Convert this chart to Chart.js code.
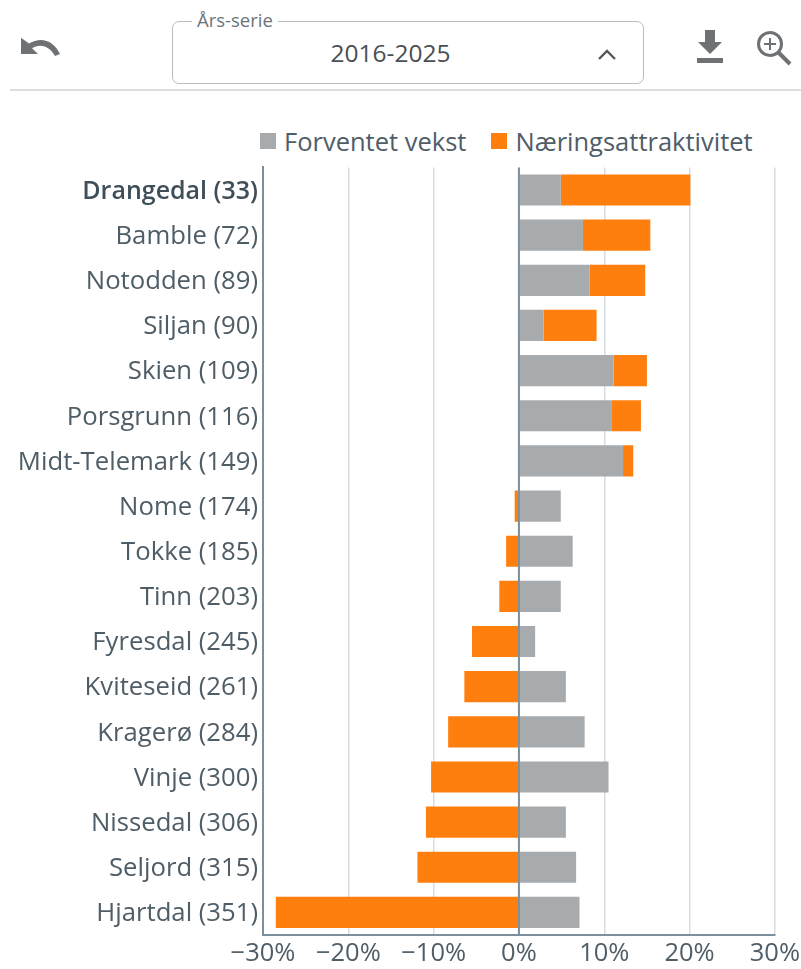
<!DOCTYPE html>
<html lang="no">
<head>
    <meta charset="UTF-8">
    <title>Næringsattraktivitet</title>
    <script src="https://cdn.jsdelivr.net/npm/chart.js"></script>
    <style>
        html, body { margin: 0; padding: 0; background: #fff; }
        body { width: 801px; height: 969px; position: relative; overflow: hidden; font-family: "Open Sans", sans-serif; color: #4a5862; }
        .toolbar-line { position: absolute; left: 10px; right: 0; top: 89px; height: 2px; background: #dcdfe1; }
        .select-box { position: absolute; left: 172px; top: 21px; width: 470px; height: 61px; border: 1px solid #b9bdbf; border-radius: 7px; }
        .select-label { position: absolute; left: 19px; top: -12px; padding: 0 5px; background: #fff; font-size: 18.5px; line-height: 20px; color: #6b7479; }
        .select-value { position: absolute; left: 0; width: 435px; top: 16px; text-align: center; font-size: 24.5px; line-height: 30px; color: #4a4f53; }
        svg { position: absolute; }
        .chart-container { position: absolute; left: 0; top: 147px; width: 803px; height: 826px; }
        #legend { position: absolute; left: 260px; top: 123px; height: 36px; display: flex; align-items: center; font-size: 25.5px; line-height: 36px; color: #4f5d67; white-space: nowrap; }
        #legend span.box { display: inline-block; width: 16px; height: 16px; margin-right: 8px; }
        #legend span.text { margin-right: 25px; }
    </style>
</head>
<body>
    <svg style="left:20px;top:34px" width="42" height="26" viewBox="0 0 42 26"><path d="M1 3v17h17l-6-6c7-5 17-3 23 8l5-2C34 6 21 1 9 9z" fill="#6e7275" transform="translate(0,1) scale(1,0.95)"/></svg>
    <div class="select-box">
        <div class="select-label">Års-serie</div>
        <div class="select-value">2016-2025</div>
        <svg style="left:424px;top:26px" width="20" height="14" viewBox="0 0 20 14"><path d="M2 11l8-8 8 8" fill="none" stroke="#55595c" stroke-width="2.4"/></svg>
    </div>
    <svg style="left:694px;top:29px" width="32" height="36" viewBox="0 0 32 36"><path d="M11 1h10v12h7L16 25 4 13h7zM3 29h26v5H3z" fill="#6e7275"/></svg>
    <svg style="left:755px;top:29px" width="38" height="38" viewBox="0 0 38 38"><circle cx="15" cy="15" r="11.5" fill="none" stroke="#6e7275" stroke-width="3"/><path d="M23 23l12 12" stroke="#6e7275" stroke-width="4"/><path d="M15 9v12M9 15h12" stroke="#6e7275" stroke-width="2"/></svg>
    <div class="toolbar-line"></div>

    <div id="legend"></div>
    <div class="chart-container">
        <canvas id="rankChart"></canvas>
    </div>

    <script>
        const kommuner = ['Drangedal (33)', 'Bamble (72)', 'Notodden (89)', 'Siljan (90)', 'Skien (109)', 'Porsgrunn (116)', 'Midt-Telemark (149)', 'Nome (174)', 'Tokke (185)', 'Tinn (203)', 'Fyresdal (245)', 'Kviteseid (261)', 'Kragerø (284)', 'Vinje (300)', 'Nissedal (306)', 'Seljord (315)', 'Hjartdal (351)'];
        const forventetVekst = [4.9, 7.5, 8.3, 2.9, 11.1, 10.9, 12.2, 4.9, 6.3, 4.9, 1.9, 5.5, 7.7, 10.5, 5.5, 6.7, 7.1];
        const naeringsattraktivitet = [15.2, 7.9, 6.5, 6.2, 3.9, 3.4, 1.2, -0.5, -1.5, -2.3, -5.5, -6.4, -8.3, -10.3, -10.9, -11.9, -28.5];
        const uthevet = 'Drangedal (33)';

        // nullinjen skal ligge oppå søylene
        const zeroLine = {
            id: 'zeroLine',
            afterDatasetsDraw(chart) {
                const { ctx, chartArea, scales } = chart;
                const x = scales.x.getPixelForValue(0);
                ctx.save();
                ctx.strokeStyle = '#7c8f9c';
                ctx.lineWidth = 2;
                ctx.beginPath();
                ctx.moveTo(x, chartArea.top);
                ctx.lineTo(x, chartArea.bottom);
                ctx.stroke();
                ctx.restore();
            }
        };

        const ctx = document.getElementById('rankChart').getContext('2d');
        const rankChart = new Chart(ctx, {
            type: 'bar',
            plugins: [zeroLine],
            data: {
                labels: kommuner,
                datasets: [
                    {
                        label: 'Forventet vekst',
                        data: forventetVekst,
                        backgroundColor: '#a7abae',
                        stack: 'total'
                    },
                    {
                        label: 'Næringsattraktivitet',
                        data: naeringsattraktivitet,
                        backgroundColor: '#ff7f0e',
                        stack: 'total'
                    }
                ]
            },
            options: {
                indexAxis: 'y',
                responsive: true,
                maintainAspectRatio: false,
                animation: false,
                layout: { padding: { top: 7, right: 24 } },
                datasets: { bar: { categoryPercentage: 1, barPercentage: 0.69 } },
                plugins: {
                    tooltip: { enabled: false },
                    legend: { display: false }
                },
                scales: {
                    x: {
                        stacked: true,
                        min: -30,
                        max: 30,
                        afterFit(scale) { scale.height = 38; },
                        ticks: {
                            stepSize: 10,
                            maxRotation: 0,
                            padding: 3,
                            color: '#4f5d67',
                            font: { family: '"Open Sans"', size: 25.5 },
                            callback: v => (v < 0 ? '\u2212' + Math.abs(v) : v) + '%'
                        },
                        grid: { color: '#d5dde3', lineWidth: 1.5, drawTicks: false },
                        border: { color: '#7c8f9c', width: 2 }
                    },
                    y: {
                        stacked: true,
                        afterFit(scale) { scale.width = 263; },
                        ticks: {
                            padding: 5,
                            labelOffset: 1.5,
                            color: c => kommuner[c.index] === uthevet ? '#3f4f5a' : '#4f5d67',
                            font: c => ({
                                family: '"Open Sans"',
                                size: kommuner[c.index] === uthevet ? 25 : 25.7,
                                weight: kommuner[c.index] === uthevet ? '600' : 'normal'
                            })
                        },
                        grid: { display: false, drawTicks: false },
                        border: { color: '#7c8f9c', width: 2 }
                    }
                }
            }
        });

        // egen forklaring, bygd fra datasettene
        document.getElementById('legend').innerHTML = rankChart.data.datasets.map(ds =>
            '<span class="box" style="background:' + ds.backgroundColor + '"></span><span class="text">' + ds.label + '</span>'
        ).join('');
    </script>
</body>
</html>
